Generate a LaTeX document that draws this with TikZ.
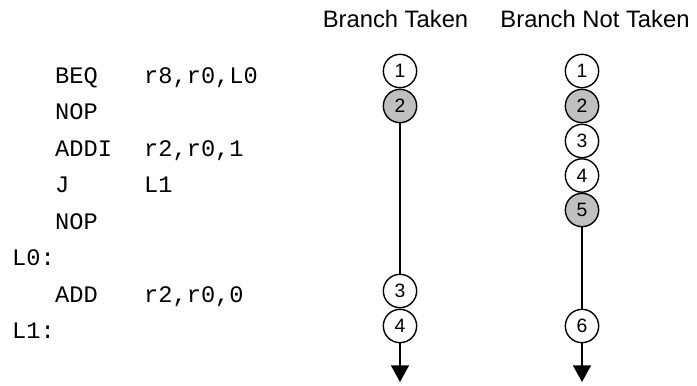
\documentclass[tikz,border=0pt]{standalone}
\usepackage{fontspec}
\setmainfont{Liberation Sans}
\newfontfamily\codefont{Liberation Mono}
\usetikzlibrary{arrows.meta}
\definecolor{stallgray}{RGB}{192,192,192}

\tikzset{
  slot/.style={circle, draw, line width=1.2pt, fill=white, minimum size=1.0cm, inner sep=0pt,
    font=\fontsize{16.5}{19}\selectfont},
  stall/.style={slot, fill=stallgray},
  instr/.style={anchor=base west, inner sep=0pt, font=\codefont\fontsize{20.2}{24}\selectfont},
  head/.style={anchor=base, inner sep=0pt, font=\fontsize{20.3}{24}\selectfont},
  flow/.style={line width=1.2pt, -{Triangle[width=0.54cm, length=0.5cm]}}
}

\begin{document}
\begin{tikzpicture}[x=0.03cm, y=-0.03cm]
    \useasboundingbox (0,0) rectangle (697,385);

    % code listing
    \node[instr] (op1) at (55,83) {BEQ};
    \node[instr] (arg1) at (144,83) {r8,r0,L0};
    \node[instr] (op2) at (55,119.5) {NOP};
    \node[instr] (op3) at (55,156) {ADDI};
    \node[instr] (arg3) at (144,156) {r2,r0,1};
    \node[instr] (op4) at (55,192.5) {J};
    \node[instr] (arg4) at (144,192.5) {L1};
    \node[instr] (op5) at (55,229) {NOP};
    \node[instr] (lab0) at (12,265.5) {L0:};
    \node[instr] (op6) at (55,302) {ADD};
    \node[instr] (arg6) at (144,302) {r2,r0,0};
    \node[instr] (lab1) at (12,338.5) {L1:};

    % taken path
    \node[head] (taken) at (395.5,27) {Branch Taken};
    \node[slot] (t1) at (400,71) {1};
    \node[stall] (t2) at (400,106) {2};
    \node[slot] (t3) at (400,291) {3};
    \node[slot] (t4) at (400,326) {4};
    \coordinate (tend) at (400,382);
    \draw[line width=1.2pt] (t2) -- (t3);
    \draw[flow] (t4) -- (tend);

    % not taken path
    \node[head] (nottaken) at (595,27) {Branch Not Taken};
    \node[slot] (n1) at (582,71) {1};
    \node[stall] (n2) at (582,106) {2};
    \node[slot] (n3) at (582,141) {3};
    \node[slot] (n4) at (582,175.5) {4};
    \node[stall] (n5) at (582,210) {5};
    \node[slot] (n6) at (582,326) {6};
    \coordinate (nend) at (582,382);
    \draw[line width=1.2pt] (n5) -- (n6);
    \draw[flow] (n6) -- (nend);
\end{tikzpicture}
\end{document}
